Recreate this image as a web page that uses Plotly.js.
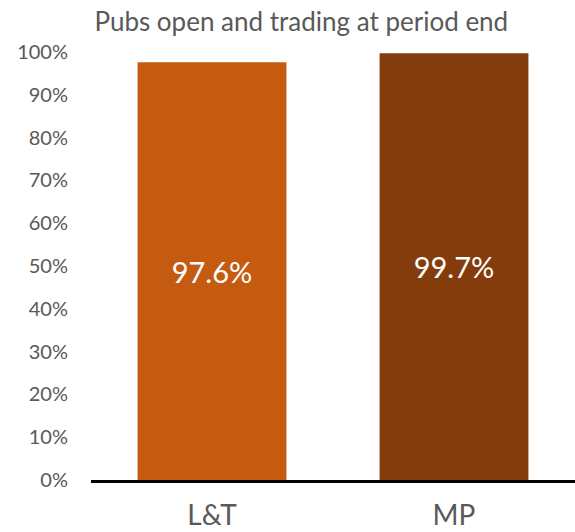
<!DOCTYPE html>
<html>
<head>
<meta charset="utf-8">
<script src="https://cdn.plot.ly/plotly-3.0.1.min.js"></script>
<style>html,body{margin:0;padding:0;background:#fff;}#chart{width:575px;height:532px;}</style>
</head>
<body>
<div id="chart"></div>
<script>
const categories = ["L&T", "MP"];
const values = [0.976, 0.997];
const labels = ["97.6%", "99.7%"];
const colors = ["#C55A11", "#843C0C"];
const yTickVals = [0, 0.1, 0.2, 0.3, 0.4, 0.5, 0.6, 0.7, 0.8, 0.9, 1.0];
const yTickText = ["0%", "10%", "20%", "30%", "40%", "50%", "60%", "70%", "80%", "90%", "100%"];

const font = "Lato, 'Open Sans', sans-serif";

Plotly.newPlot("chart", [{
  type: "bar",
  x: categories,
  y: values,
  text: labels,
  texttemplate: "%{text}",
  textposition: "inside",
  insidetextanchor: "middle",
  textfont: {family: font, size: 29, color: "#ffffff"},
  marker: {color: colors},
  width: 0.615,
  hoverinfo: "none"
}], {
  width: 575,
  height: 532,
  margin: {l: 91, r: 0, t: 52, b: 52},
  paper_bgcolor: "#ffffff",
  plot_bgcolor: "#ffffff",
  showlegend: false,
  title: {
    text: "Pubs open and trading at period end",
    font: {family: font, size: 26, color: "#595959"},
    x: 0.524, xanchor: "center", xref: "container",
    y: 0.958, yanchor: "middle", yref: "container"
  },
  xaxis: {
    showline: true, linecolor: "#000000", linewidth: 3,
    showgrid: false, zeroline: false, ticks: "",
    tickfont: {family: font, size: 28, color: "#595959"},
    ticklabelstandoff: 8,
    fixedrange: true
  },
  yaxis: {
    range: [0, 1.0],
    tickvals: yTickVals, ticktext: yTickText,
    showgrid: false, zeroline: false, showline: false, ticks: "",
    tickfont: {family: font, size: 20, color: "#595959"},
    ticklabelstandoff: 22,
    fixedrange: true
  },
  bargap: 0.385
}, {displayModeBar: false, staticPlot: true});
</script>
</body>
</html>
